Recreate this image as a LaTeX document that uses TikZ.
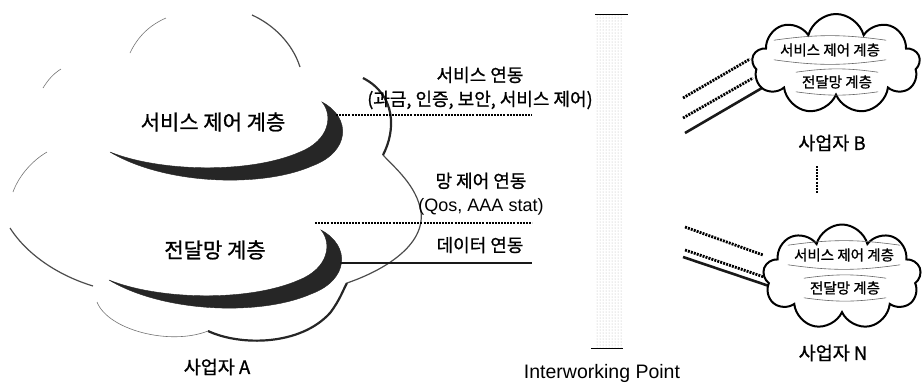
\documentclass[tikz,border=0pt]{standalone}
\usepackage{fontspec}
\setmainfont{Liberation Sans}
\newfontfamily\hangul[FakeBold=1]{Noto Sans CJK KR}
\usepackage{tikz}
\usetikzlibrary{positioning,shapes.symbols,patterns}

\tikzset{
  layername/.style={font=\hangul\fontsize{21}{23}\selectfont},
  linkname/.style={font=\hangul\fontsize{18}{24}\selectfont, align=center},
  opname/.style={font=\hangul\fontsize{18.5}{20}\selectfont},
  smallname/.style={font=\hangul\fontsize{14.5}{16}\selectfont, inner sep=3pt},
  opcloud/.style={cloud, cloud puffs=9, draw, fill=white, line width=2pt, aspect=1.7, inner sep=0pt},
  rimthin/.style={draw=black!55, line width=0.6pt},
  rimmid/.style={draw=black!70, line width=1.2pt},
  rimdark/.style={draw=black!85, line width=2.2pt},
  crescent/.style={fill=black!85, draw=black!85, line width=0.4pt},
  ctrlline/.style={draw=black, line width=2.8pt, dash pattern=on 2pt off 1.1pt},
  dataline/.style={draw=black!90, line width=2.6pt},
  lensline/.style={draw=black!60, line width=0.6pt},
  ipband/.style={pattern=dots, pattern color=black!30, minimum width=26pt, minimum height=333pt, inner sep=0pt},
}

\begin{document}
\begin{tikzpicture}[x=1pt, y=-1pt]
  \useasboundingbox (0,0) rectangle (922,384);

  % operator A: outer cloud
  \draw[rimthin] (130,53) .. controls (138,36) and (150,25) .. (166,18);
  \draw[rimmid] (252,15) .. controls (272,24) and (292,42) .. (300,67);
  \draw[rimthin] (43,88) .. controls (48,80) and (53,74) .. (61,69);
  \draw[rimthin] (47,152) .. controls (30,162) and (18,178) .. (13,192);
  \draw[rimmid] (10,228) .. controls (28,256) and (60,276) .. (93,286);
  \draw[rimthin] (97,302) .. controls (108,330) and (170,346) .. (208,331);
  \draw[rimdark] (208,331) .. controls (240,346) and (300,346) .. (330,313)
                 .. controls (340,300) and (343,290) .. (347,283);
  \draw[rimmid] (347,283) .. controls (385,270) and (425,245) .. (421,212)
                .. controls (417,186) and (395,168) .. (383,155);
  \draw[rimdark] (383,155) .. controls (396,130) and (396,95) .. (363,78);

  % the two layers of A
  \foreach \dx/\dy in {0/0, -1/128}
    \path[crescent, shift={(\dx,\dy)}]
      (322,102) .. controls (352,118) and (350,152) .. (312,166)
      .. controls (262,188) and (165,185) .. (110,152)
      .. controls (160,172) and (250,174) .. (300,152)
      .. controls (330,140) and (333,115) .. (322,102) -- cycle;

  \node (asvc) [layername] at (213,122) {서비스 제어 계층};
  \node (anet) [layername] at (215,250) {전달망 계층};
  \node (opA) [opname] at (217,367) {사업자 A};

  % interworking point
  \node (ip) [ipband] at (609,181.5) {};
  \draw[line width=0.8pt] ([xshift=-1pt]ip.north west) -- ([xshift=6pt]ip.north east);
  \draw[line width=0.8pt] ([xshift=-5pt]ip.south west) -- ([xshift=1pt]ip.south east);
  \node (iplabel) [font=\fontsize{19.5}{22}\selectfont] at (602,373) {Interworking Point};

  % links from A
  \coordinate (asvcR) at (336,115);  \coordinate (asvcIP) at (532,115);
  \coordinate (anetR) at (315,223);  \coordinate (anetIP) at (532,223);
  \coordinate (adataR) at (340,263); \coordinate (adataIP) at (532,263);
  \draw[ctrlline] (asvcR) -- (asvcIP);
  \draw[ctrlline] (anetR) -- (anetIP);
  \draw[dataline] (adataR) -- (adataIP);

  \node (svclink) [linkname] at (480,88) {서비스 연동\\(과금, 인증, 보안, 서비스 제어)};
  \node (netlink) [linkname] at (481,194) {망 제어 연동\\{\rmfamily (Qos, AAA stat)}};
  \node (datalink) [linkname] at (480,245) {데이터 연동};

  % links to B and N
  \coordinate (bl1) at (683,98);  \coordinate (br1) at (750,59);
  \coordinate (bl2) at (683,118); \coordinate (br2) at (753,78);
  \coordinate (bl3) at (685,133); \coordinate (br3) at (762,88);
  \coordinate (nl1) at (685,227); \coordinate (nr1) at (763,255);
  \coordinate (nl2) at (685,250); \coordinate (nr2) at (767,278);
  \coordinate (nl3) at (683,257); \coordinate (nr3) at (775,288);
  \draw[ctrlline] (bl1) -- (br1);
  \draw[ctrlline] (bl2) -- (br2);
  \draw[dataline] (bl3) -- (br3);
  \draw[ctrlline] (nl1) -- (nr1);
  \draw[ctrlline] (nl2) -- (nr2);
  \draw[dataline] (nl3) -- (nr3);

  % operator B
  \node (cloudB) [opcloud, minimum width=168pt, minimum height=100pt] at (836,64) {};
  \node (bsvc) [smallname] at (830,50) {서비스 제어 계층};
  \node (bnet) [smallname] at (837,82) {전달망 계층};
  \foreach \n in {bsvc, bnet} {
    \draw[lensline] ([xshift=-3pt]\n.north west) to[bend left=8] ([xshift=3pt]\n.north east);
    \draw[lensline] ([xshift=-3pt]\n.south west) to[bend right=8] ([xshift=3pt]\n.south east);
  }
  \node (opB) [opname] at (832,143) {사업자 B};

  \coordinate (vdtop) at (817,166); \coordinate (vdbot) at (817,193);
  \draw[ctrlline, line width=2.2pt] (vdtop) -- (vdbot);

  % operator N
  \node (cloudN) [opcloud, minimum width=158pt, minimum height=105pt] at (842,277) {};
  \node (nsvc) [smallname] at (844,255) {서비스 제어 계층};
  \node (nnet) [smallname] at (845,288) {전달망 계층};
  \foreach \n in {nsvc, nnet} {
    \draw[lensline] ([xshift=-3pt]\n.north west) to[bend left=8] ([xshift=3pt]\n.north east);
    \draw[lensline] ([xshift=-3pt]\n.south west) to[bend right=8] ([xshift=3pt]\n.south east);
  }
  \node (opN) [opname] at (833,353) {사업자 N};
\end{tikzpicture}
\end{document}
